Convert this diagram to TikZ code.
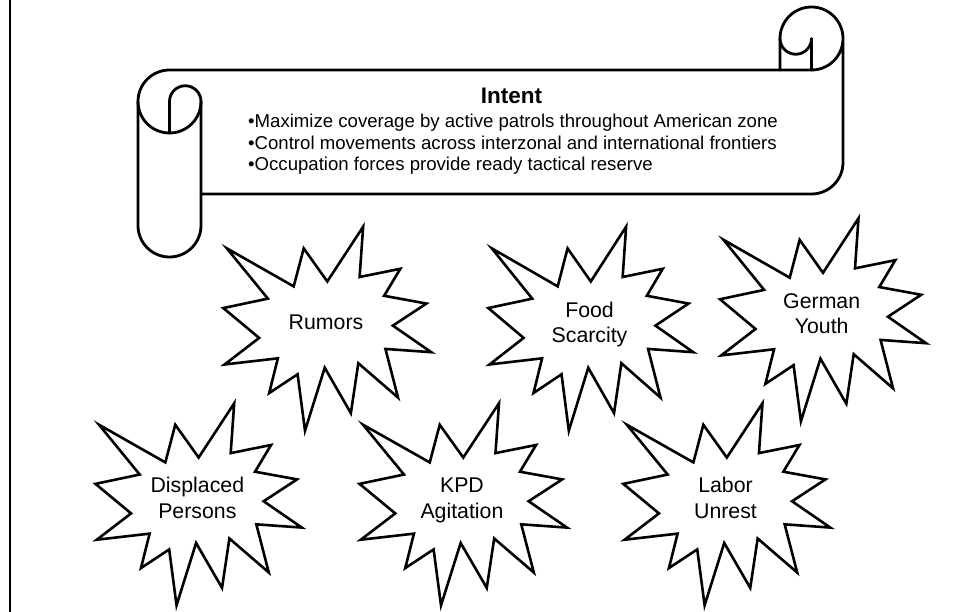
\documentclass[tikz,border=0pt]{standalone}
\usepackage{fontspec}
\setmainfont{Liberation Sans}
\tikzset{
  scrollline/.style={draw=black, line width=2.8pt, line join=round, line cap=round},
  boomline/.style={draw=black, fill=white, line width=2.6pt, line join=miter},
  boomtext/.style={inner sep=0pt, align=center, text depth=0pt, font=\fontsize{21.3pt}{25.6pt}\selectfont},
  bullettext/.style={inner sep=0pt, anchor=base west, font=\fontsize{18.6pt}{21.7pt}\selectfont},
  titletext/.style={inner sep=0pt, anchor=base, font=\fontsize{22.5pt}{27pt}\selectfont\bfseries},
}
\newcommand\drawboom[6]{%
  \begin{scope}[shift={(#2pt,-#3pt)}, x=#4pt/216, y=-#5pt/216]
    \draw[boomline] (108,58) -- (145.22,0) -- (141.55,53.25) -- (183.80,44.57)
      -- (167.02,73.15) -- (210.97,81.37) -- (176.07,104.75) -- (216,132.90)
      -- (168.37,129.42) -- (181.45,180.95) -- (140.20,144.57) -- (132.47,197.37)
      -- (105.32,149.35) -- (84.85,216) -- (77.15,156.27) -- (47.62,176.17)
      -- (56.67,139.37) -- (1.35,145.87) -- (37.22,117.75) -- (0,86.15)
      -- (46.27,76.17) -- (3.70,22.95) -- (73.12,63.20) -- (83.52,22.95) -- cycle;
    \node[boomtext] (#1) at (106.65,101.29) {#6};
  \end{scope}}
\begin{document}
\begin{tikzpicture}[x=1pt, y=-1pt]
\useasboundingbox (0,0) rectangle (961,612);
\fill[white] (0,0) rectangle (961,612);
% left border line
\coordinate (bt) at (10,0);
\coordinate (bb) at (10,612);
\draw[line width=2.5pt] (bt) -- (bb);
% scroll body
\draw[scrollline, fill=white] (138,101.5) arc[start angle=180, end angle=90, radius=31.5pt]
  -- (811.5,70) arc[start angle=270, end angle=360, radius=31.5pt]
  -- (843,162.5) arc[start angle=0, end angle=-90, radius=31.5pt]
  -- (201,194) -- (201,225.5) arc[start angle=0, end angle=-180, radius=31.5pt]
  -- cycle;
% right roll
\draw[scrollline] (780,70) -- (780,38.5) arc[start angle=180, end angle=0, radius=31.5pt];
\draw[scrollline] (780,38.5) arc[start angle=180, end angle=360, radius=15.75pt] -- (811.5,70);
% left roll
\draw[scrollline] (138,101.5) arc[start angle=180, end angle=360, radius=31.5pt];
\draw[scrollline] (169.5,133) -- (169.5,101.5) arc[start angle=180, end angle=0, radius=15.75pt] -- (201,194);
% scroll text
\node[titletext] (title) at (511.5,103.3) {Intent};
\node[bullettext] (b1) at (248,127.7) {•Maximize coverage by active patrols throughout American zone};
\node[bullettext] (b2) at (248,149.3) {•Control movements across interzonal and international frontiers};
\node[bullettext] (b3) at (248,171) {•Occupation forces provide ready tactical reserve};
% explosions
\drawboom{rumors}{223.3}{226.7}{208}{204}{Rumors}
\drawboom{food}{488.3}{226.7}{205}{204}{Food\\Scarcity}
\drawboom{youth}{720}{218.3}{206}{203}{German\\Youth}
\drawboom{dp}{95.5}{403.3}{206.3}{202}{Displaced\\Persons}
\drawboom{kpd}{359.5}{403.3}{207.5}{202}{KPD\\Agitation}
\drawboom{labor}{623.3}{403.3}{207}{202}{Labor\\Unrest}
\end{tikzpicture}
\end{document}
